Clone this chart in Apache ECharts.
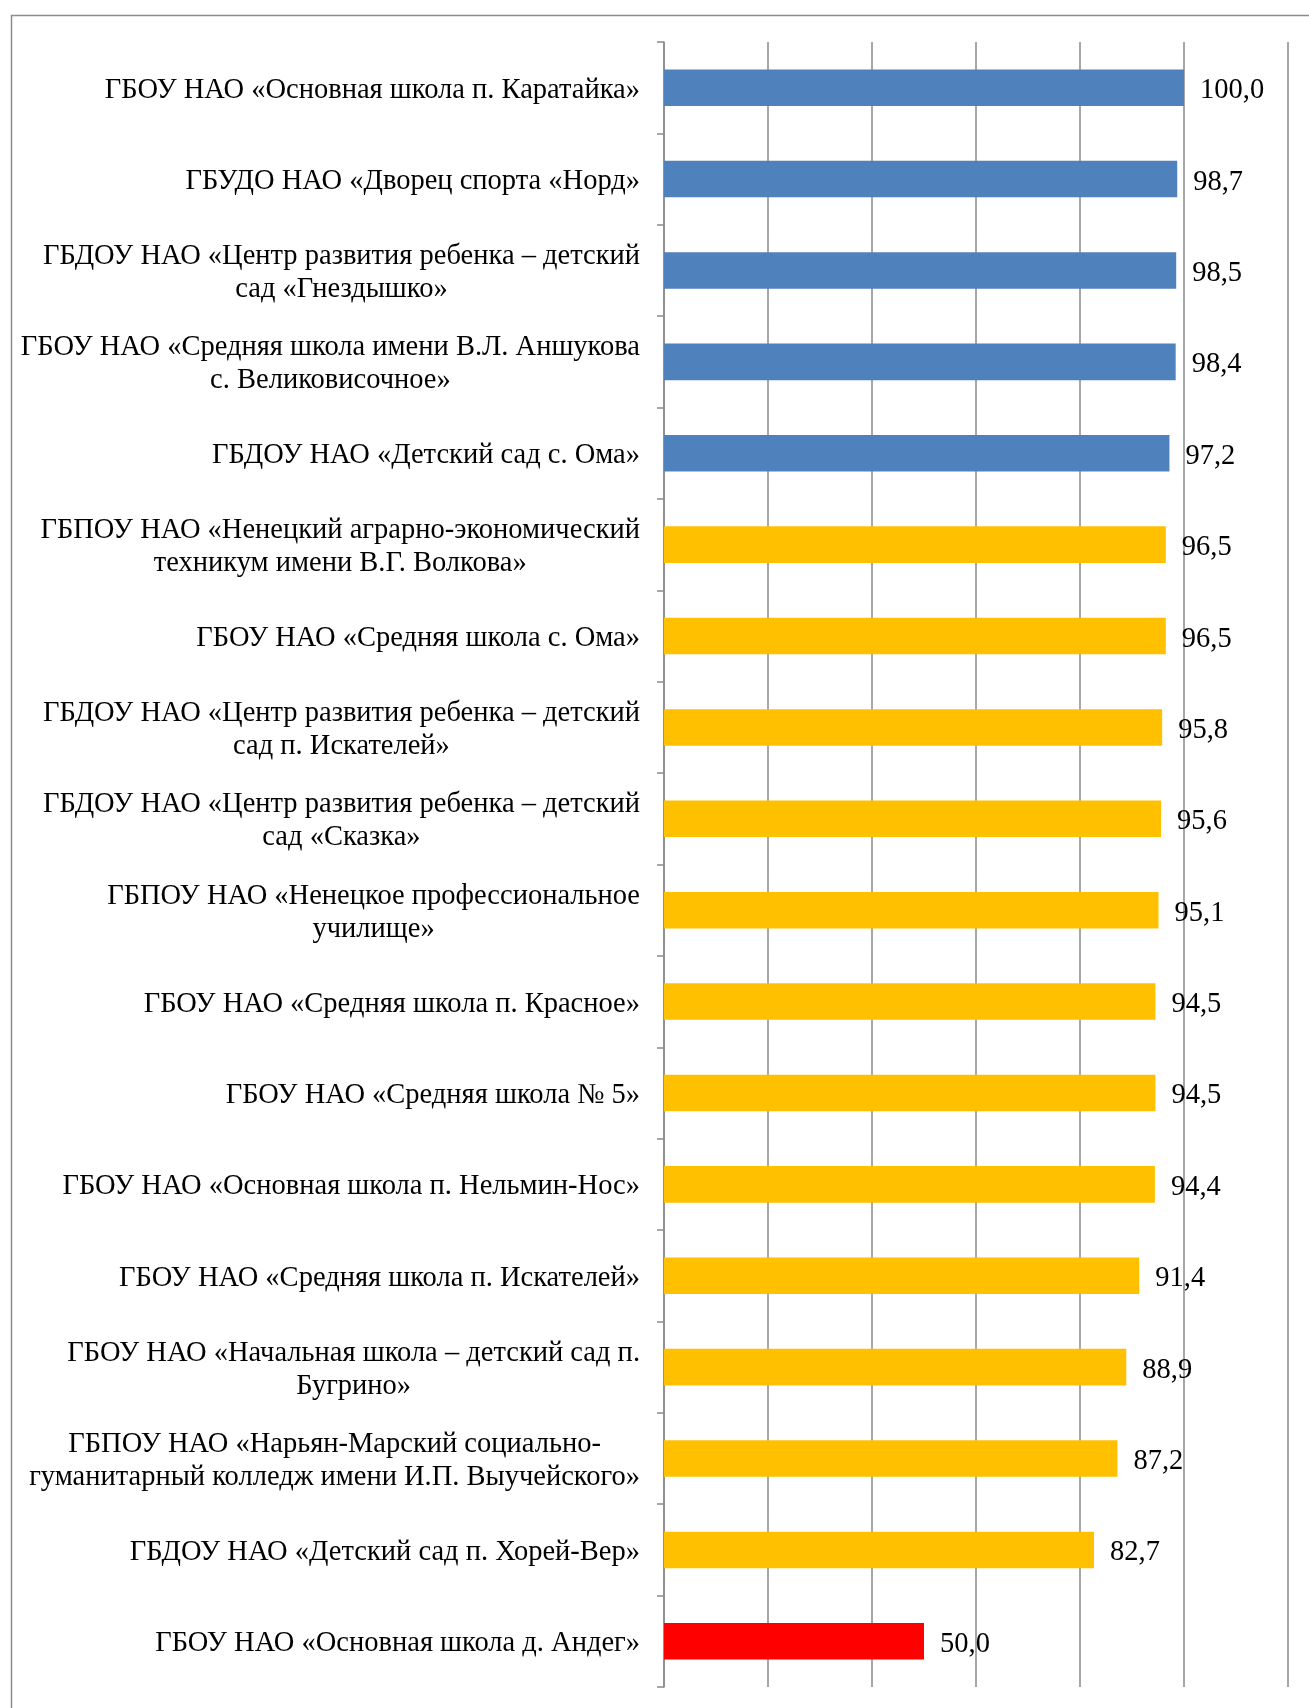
<!DOCTYPE html>
<html>
<head>
<meta charset="utf-8">
<script src="https://cdn.jsdelivr.net/npm/echarts@6/dist/echarts.min.js"></script>
<style>
html,body{margin:0;padding:0;background:#fff;}
#chart{width:1309px;height:1708px;}
</style>
</head>
<body>
<div id="chart"></div>
<script>
const categories = [
  "ГБОУ НАО «Основная школа п. Каратайка»",
  "ГБУДО НАО «Дворец спорта «Норд»",
  "ГБДОУ НАО «Центр развития ребенка – детский\nсад «Гнездышко»",
  "ГБОУ НАО «Средняя школа имени В.Л. Аншукова\nс. Великовисочное»",
  "ГБДОУ НАО «Детский сад с. Ома»",
  "ГБПОУ НАО «Ненецкий аграрно-экономический\nтехникум имени В.Г. Волкова»",
  "ГБОУ НАО «Средняя школа с. Ома»",
  "ГБДОУ НАО «Центр развития ребенка – детский\nсад п. Искателей»",
  "ГБДОУ НАО «Центр развития ребенка – детский\nсад «Сказка»",
  "ГБПОУ НАО «Ненецкое профессиональное\nучилище»",
  "ГБОУ НАО «Средняя школа п. Красное»",
  "ГБОУ НАО «Средняя школа № 5»",
  "ГБОУ НАО «Основная школа п. Нельмин-Нос»",
  "ГБОУ НАО «Средняя школа п. Искателей»",
  "ГБОУ НАО «Начальная школа – детский сад п.\nБугрино»",
  "ГБПОУ НАО «Нарьян-Марский социально-\nгуманитарный колледж имени И.П. Выучейского»",
  "ГБДОУ НАО «Детский сад п. Хорей-Вер»",
  "ГБОУ НАО «Основная школа д. Андег»"
];
const values = [100.0, 98.7, 98.5, 98.4, 97.2, 96.5, 96.5, 95.8, 95.6, 95.1, 94.5, 94.5, 94.4, 91.4, 88.9, 87.2, 82.7, 50.0];
const groups = ["blue","blue","blue","blue","blue","orange","orange","orange","orange","orange","orange","orange","orange","orange","orange","orange","orange","red"];
const groupColors = {blue: "#4F81BD", orange: "#FFC000", red: "#FF0000"};
const valueTicks = [0, 20, 40, 60, 80, 100, 120];

const FONT = '"Liberation Serif", "Times New Roman", serif';
const FS = 28.5;
const chart = echarts.init(document.getElementById('chart'));
chart.setOption({
  animation: false,
  backgroundColor: '#fff',
  graphic: [{
    type: 'rect', left: 9, top: 13, silent: true, z: -10,
    shape: {width: 1400, height: 1800},
    style: {fill: 'none', stroke: '#8c8c8c', lineWidth: 1.5}
  }],
  grid: {left: 664, top: 42, right: 21, bottom: 21, containLabel: false},
  xAxis: {
    type: 'value', min: valueTicks[0], max: valueTicks[valueTicks.length-1], interval: 20,
    axisLabel: {show: false}, axisLine: {show: false}, axisTick: {show: false},
    splitLine: {show: true, lineStyle: {color: '#8a8a8a', width: 1.5}}
  },
  yAxis: {
    type: 'category', inverse: true, data: categories,
    axisLine: {show: true, lineStyle: {color: '#8a8a8a', width: 1.5}},
    axisTick: {show: true, length: 7, lineStyle: {color: '#8a8a8a', width: 1.5}},
    axisLabel: {
      color: '#000', fontFamily: FONT, fontSize: FS, lineHeight: 33, margin: 24, align: 'right',
      padding: [5, 0, 0, 0],
      formatter: function (v) { return v.split('\n').map(l => '{c|' + l + '}').join('\n'); },
      rich: {c: {align: 'center', color: '#000', fontFamily: FONT, fontSize: FS, lineHeight: 33}}
    }
  },
  series: [{
    type: 'bar',
    data: values.map((v, i) => ({value: v, itemStyle: {color: groupColors[groups[i]]}})),
    barWidth: '40%',
    label: {
      show: true, position: 'right', distance: 16, color: '#000', fontFamily: FONT, fontSize: FS,
      offset: [0, 3],
      formatter: p => p.value.toFixed(1).replace('.', ',')
    }
  }]
});
</script>
</body>
</html>
